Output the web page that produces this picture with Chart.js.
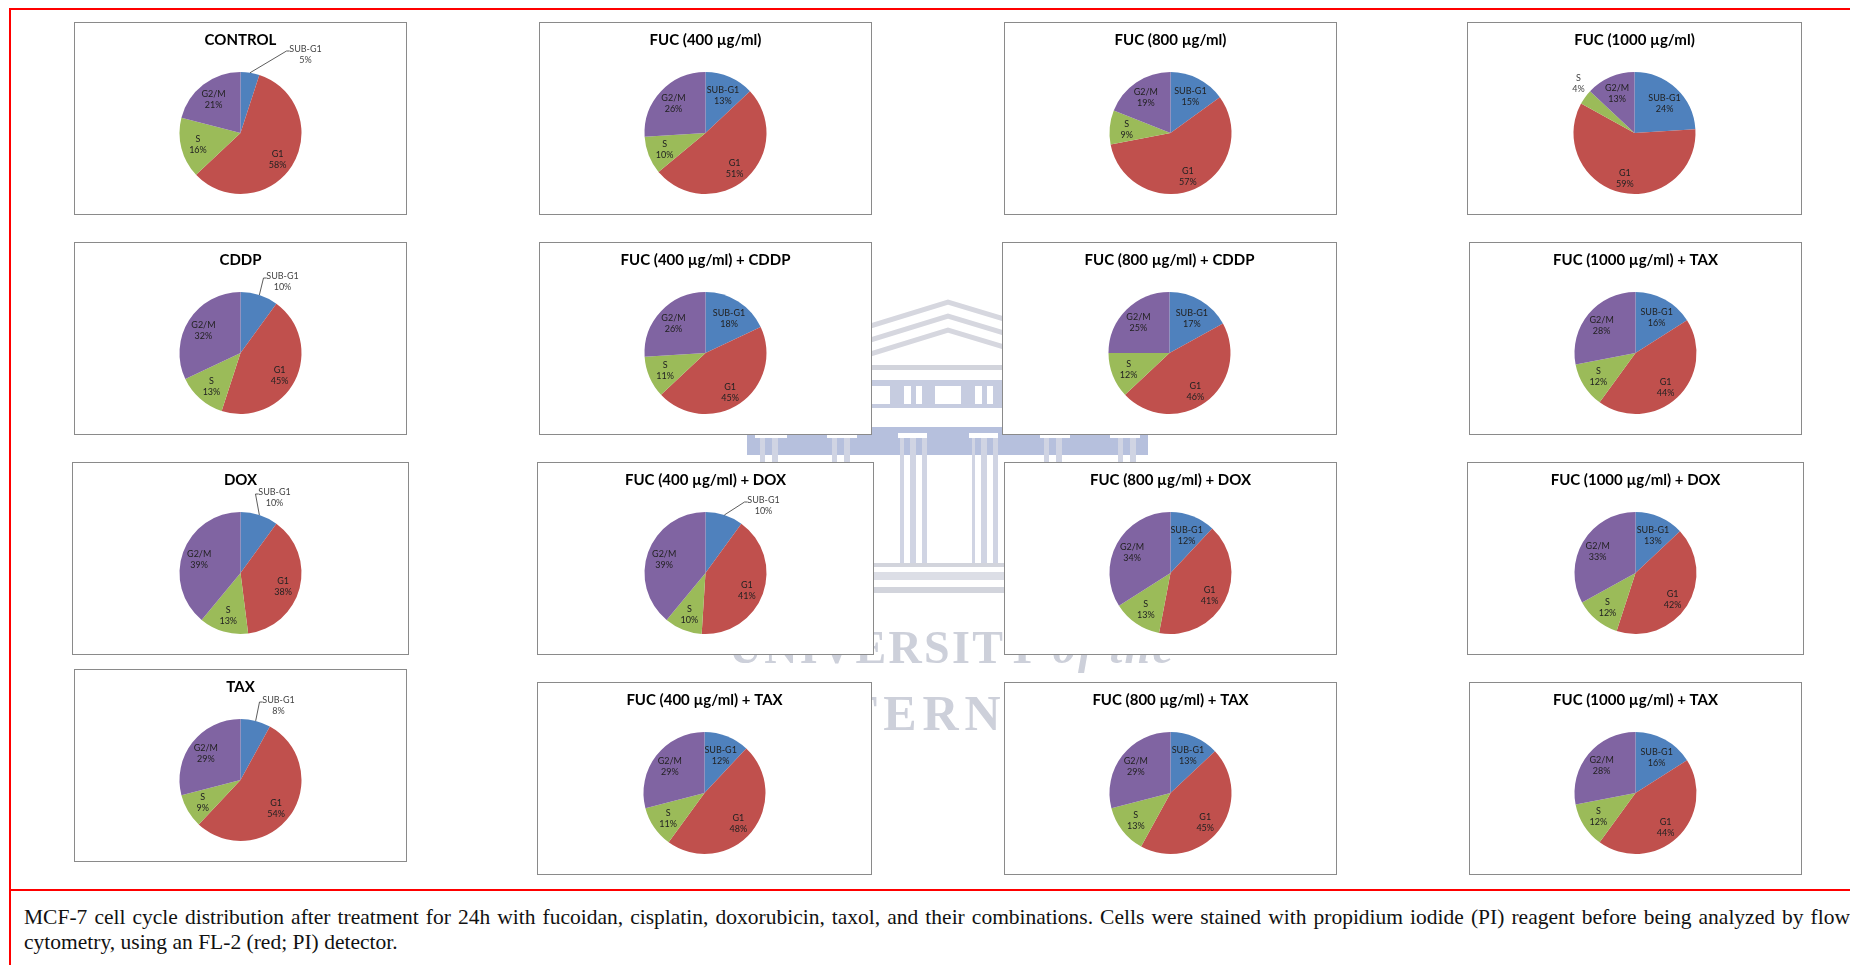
<!DOCTYPE html>
<html>
<head>
<meta charset="utf-8">
<script src="https://cdn.jsdelivr.net/npm/chart.js@4"></script>
<style>
html, body { margin: 0; padding: 0; background: #fff; overflow: hidden; }
#page { position: relative; width: 1850px; height: 965px; overflow: hidden; }
.rule { position: absolute; background: #f00; }
.box { position: absolute; box-sizing: border-box; border: 1px solid #8a8a8a; background: #fff; }
.box canvas { display: block; filter: blur(0.4px); }
#mark { position: absolute; left: 0; top: 0; filter: blur(0.7px); }
.caption { position: absolute; left: 24px; font: 21.5px/25px "Liberation Serif", serif; color: #111; white-space: nowrap; }
#line1 { top: 905px; width: 1826px; white-space: normal; text-align: justify; text-align-last: justify; }
#line2 { top: 930px; }
</style>
</head>
<body>
<div id="page">
  <svg id="mark" width="1850" height="965">
    <g fill="none" stroke="#d6d7df" stroke-width="5">
      <polyline points="760,360 948,302 1140,360"/>
      <polyline points="760,374 948,316 1140,374"/>
      <polyline points="760,388 948,330 1140,388"/>
    </g>
    <rect x="760" y="365" width="380" height="5" fill="#d2d4dc"/>
    <rect x="760" y="380" width="380" height="28" fill="#c6cce0"/>
    <g fill="#fff">
      <rect x="872" y="386" width="18" height="18"/>
      <rect x="904" y="386" width="7" height="18"/>
      <rect x="916" y="386" width="6" height="18"/>
      <rect x="935" y="386" width="26" height="18"/>
      <rect x="975" y="386" width="7" height="18"/>
      <rect x="987" y="386" width="6" height="18"/>
    </g>
    <rect x="747" y="427" width="401" height="28" fill="#b6c0dd"/>
    <g fill="#fff">
      <rect x="755" y="433" width="32" height="5"/>
      <rect x="827" y="433" width="30" height="5"/>
      <rect x="898" y="433" width="29" height="5"/>
      <rect x="969" y="433" width="29" height="5"/>
      <rect x="1040" y="433" width="30" height="5"/>
      <rect x="1110" y="433" width="30" height="5"/>
    </g>
    <g fill="#d0d4e3">
      <rect x="900" y="438" width="4" height="125"/>
      <rect x="910" y="438" width="6" height="125"/>
      <rect x="922" y="438" width="5" height="125"/>
      <rect x="972" y="438" width="3" height="125"/>
      <rect x="981" y="438" width="6" height="125"/>
      <rect x="993" y="438" width="5" height="125"/>
      <rect x="760" y="438" width="5" height="30"/>
      <rect x="772" y="438" width="6" height="30"/>
      <rect x="832" y="438" width="5" height="30"/>
      <rect x="844" y="438" width="6" height="30"/>
      <rect x="1044" y="438" width="5" height="30"/>
      <rect x="1056" y="438" width="6" height="30"/>
      <rect x="1118" y="438" width="5" height="30"/>
      <rect x="1130" y="438" width="6" height="30"/>
    </g>
    <rect x="700" y="563" width="500" height="4" fill="#d2d4dc"/>
    <rect x="700" y="572" width="500" height="8" fill="#dcdee6"/>
    <rect x="700" y="587" width="500" height="6" fill="#d2d4dc"/>
    <text x="952" y="663" text-anchor="middle" font-family="Liberation Serif" font-weight="bold" font-size="46" letter-spacing="2.3" fill="#cdd0da">UNIVERSITY <tspan font-style="italic">of the</tspan></text>
    <text x="950" y="730" text-anchor="middle" font-family="Liberation Serif" font-weight="bold" font-size="50" letter-spacing="6" fill="#cdd0da">WESTERN CAPE</text>
  </svg>
  <div class="rule" style="left:9px;top:8px;width:1841px;height:2px"></div>
  <div class="rule" style="left:9px;top:8px;width:2px;height:957px"></div>
  <div class="rule" style="left:9px;top:889px;width:1841px;height:2px"></div>
  <div class="caption" id="line1">MCF-7 cell cycle distribution after treatment for 24h with fucoidan, cisplatin, doxorubicin, taxol, and their combinations. Cells were stained with propidium iodide (PI) reagent before being analyzed by flow</div>
  <div class="caption" id="line2">cytometry, using an FL-2 (red; PI) detector.</div>
</div>
<script>
// Hücre döngüsü verileri
const phases = ['SUB-G1', 'G1', 'S', 'G2/M'];
const phaseColors = ['#4f81bd', '#c0504d', '#9bbb59', '#8064a2'];

const chartTitles = [
    'CONTROL', 'FUC (400 µg/ml)', 'FUC (800 µg/ml)', 'FUC (1000 µg/ml)',
    'CDDP', 'FUC (400 µg/ml) + CDDP', 'FUC (800 µg/ml) + CDDP', 'FUC (1000 µg/ml) + TAX',
    'DOX', 'FUC (400 µg/ml) + DOX', 'FUC (800 µg/ml) + DOX', 'FUC (1000 µg/ml) + DOX',
    'TAX', 'FUC (400 µg/ml) + TAX', 'FUC (800 µg/ml) + TAX', 'FUC (1000 µg/ml) + TAX'
];
const subG1Values = [5, 13, 15, 24, 10, 18, 17, 16, 10, 10, 12, 13, 8, 12, 13, 16];
const g1Values = [58, 51, 57, 59, 45, 45, 46, 44, 38, 41, 41, 42, 54, 48, 45, 44];
const sValues = [16, 10, 9, 4, 13, 11, 12, 12, 13, 10, 13, 12, 9, 11, 13, 12];
const g2mValues = [21, 26, 19, 13, 32, 26, 25, 28, 39, 39, 34, 33, 29, 29, 29, 28];

// Kutu konumları: sol, üst, genişlik, yükseklik
const boxes = [
    [74, 22, 333, 193], [539, 22, 333, 193], [1004, 22, 333, 193], [1467, 22, 335, 193],
    [74, 242, 333, 193], [539, 242, 333, 193], [1002, 242, 335, 193], [1469, 242, 333, 193],
    [72, 462, 337, 193], [537, 462, 337, 193], [1004, 462, 333, 193], [1467, 462, 337, 193],
    [74, 669, 333, 193], [537, 682, 335, 193], [1004, 682, 333, 193], [1469, 682, 333, 193]
];

// Pastanın dışında kalan etiketler: grafik no -> dilim, dx, dy, kılavuz çizgi
const outsideLabels = {
    0: { slice: 0, dx: 65, dy: -78, leader: true },
    3: { slice: 2, dx: -56, dy: -49, leader: false },
    4: { slice: 0, dx: 42, dy: -71, leader: true },
    8: { slice: 0, dx: 34, dy: -75, leader: true },
    9: { slice: 0, dx: 58, dy: -67, leader: true },
    12: { slice: 0, dx: 38, dy: -74, leader: true }
};

// Etiketleri dilime göre biraz aşağı kaydır
const labelNudge = [3, 3, 0.5, 1];

// Dilim etiketleri için küçük eklenti (datalabels yok)
const sliceLabels = {
    id: 'sliceLabels',
    afterDatasetsDraw(chart, args, opts) {
        const c = chart.ctx;
        const values = chart.data.datasets[0].data;
        c.save();
        c.font = '9px Lato';
        c.textAlign = 'center';
        c.textBaseline = 'middle';
        chart.getDatasetMeta(0).data.forEach((arc, i) => {
            const p = arc.getProps(['x', 'y', 'startAngle', 'endAngle', 'outerRadius'], true);
            const mid = (p.startAngle + p.endAngle) / 2;
            let lx = p.x + Math.cos(mid) * p.outerRadius * 0.72;
            let ly = p.y + Math.sin(mid) * p.outerRadius * 0.72 + labelNudge[i];
            const out = opts.outside && opts.outside.slice === i ? opts.outside : null;
            if (out) {
                lx = p.x + out.dx;
                ly = p.y + out.dy;
                if (out.leader) {
                    c.strokeStyle = '#333';
                    c.lineWidth = 0.8;
                    c.beginPath();
                    c.moveTo(p.x + Math.cos(mid) * p.outerRadius, p.y + Math.sin(mid) * p.outerRadius);
                    c.lineTo(lx - 19, ly - 4);
                    c.lineTo(lx - 16, ly - 4);
                    c.stroke();
                }
            }
            c.fillStyle = out ? '#444' : '#222';
            c.fillText(chart.data.labels[i], lx, ly - 5.5);
            c.fillText(values[i] + '%', lx, ly + 5.5);
        });
        c.restore();
    }
};

chartTitles.forEach((title, i) => {
    const [left, top, width, height] = boxes[i];
    const box = document.createElement('div');
    box.className = 'box';
    box.style.cssText = `left:${left}px;top:${top}px;width:${width}px;height:${height}px`;
    const canvas = document.createElement('canvas');
    canvas.width = width - 2;
    canvas.height = height - 2;
    box.appendChild(canvas);
    document.getElementById('page').appendChild(box);

    new Chart(canvas, {
        type: 'pie',
        data: {
            labels: phases,
            datasets: [{
                data: [subG1Values[i], g1Values[i], sValues[i], g2mValues[i]],
                backgroundColor: phaseColors,
                borderWidth: 0
            }]
        },
        options: {
            responsive: false,
            animation: false,
            layout: { padding: { top: 0, bottom: 20 } },
            plugins: {
                legend: { display: false },
                tooltip: { enabled: false },
                title: {
                    display: true,
                    text: title,
                    color: '#000',
                    font: { family: 'Lato', size: 15, weight: 'bold' },
                    padding: { top: 8.5, bottom: 22.5 }
                },
                sliceLabels: { outside: outsideLabels[i] }
            }
        },
        plugins: [sliceLabels]
    });
});
</script>
</body>
</html>
